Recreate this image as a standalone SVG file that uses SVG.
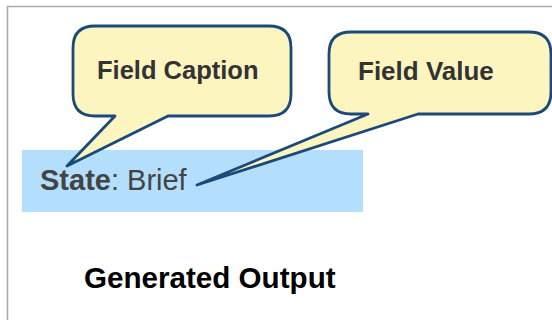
<svg xmlns="http://www.w3.org/2000/svg" width="552" height="320" viewBox="0 0 552 320">
<style>
.callout{fill:#fdf5c0;stroke:#1a4a7a;stroke-width:2.8;stroke-linejoin:round}
.ct{font-family:"Liberation Sans",Arial,sans-serif;font-weight:bold;font-size:25.5px;fill:#333}
</style>
<rect x="0" y="0" width="552" height="320" fill="#fff"/>
<path d="M7.5 320 V6.5 H552" fill="none" stroke="#aaa" stroke-width="1.5"/>
<g id="field-bg">
<rect x="22" y="150" width="341" height="62" fill="#b3dffc"/>
<text x="40" y="190" font-family="Liberation Sans,Arial,sans-serif" font-size="29" fill="#444"><tspan font-weight="bold">State</tspan>: Brief</text>
</g>
<g id="callout-caption">
<path class="callout" d="M95 26 H269 Q291 26 291 48 V94 Q291 116 269 116 H168 L67 166 L115 116 H95 Q73 116 73 94 V48 Q73 26 95 26 Z"/>
<text class="ct" x="97" y="79">Field Caption</text>
</g>
<g id="callout-value">
<path class="callout" d="M351 32 H529 Q551 32 551 54 V92 Q551 114 529 114 H418 L197 185 L368 114 H351 Q329 114 329 92 V54 Q329 32 351 32 Z"/>
<text class="ct" x="358" y="80" style="font-size:26px">Field Value</text>
</g>
<g id="caption">
<text x="84" y="288" font-family="Liberation Sans,Arial,sans-serif" font-weight="bold" font-size="29.6" fill="#000">Generated Output</text>
</g>
</svg>
